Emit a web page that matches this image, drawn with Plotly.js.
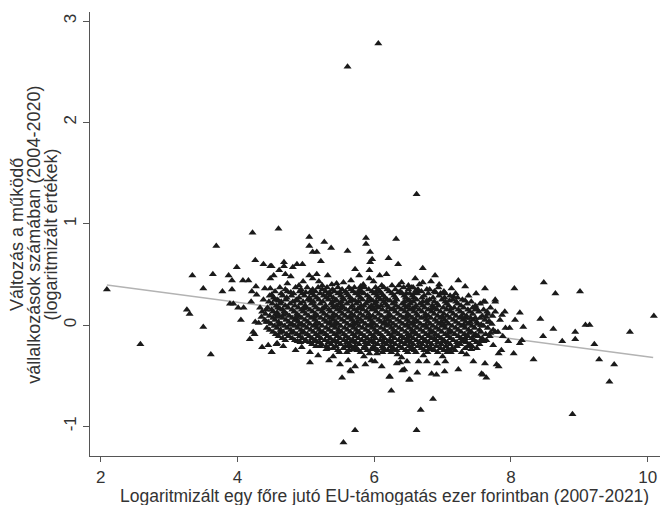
<!DOCTYPE html>
<html>
<head>
<meta charset="utf-8">
<script src="https://cdn.plot.ly/plotly-3.0.1.min.js"></script>
<style>html,body{margin:0;padding:0;background:#fff;}#chart{width:663px;height:505px;}</style>
</head>
<body>
<div id="chart"></div>
<script>
// Outlying / fringe points: [x, y]
const fringePoints = [
  [6.06,2.78],[5.61,2.55],[6.62,1.29],
  [5.55,-1.16],[5.72,-1.04],[6.62,-1.04],[6.68,-0.84],[6.86,-0.73],[6.25,-0.65],
  [8.48,0.42],[8.65,0.31],[9.01,0.33],[8.43,0.06],[8.62,-0.04],[8.47,-0.11],[8.75,-0.16],
  [8.94,-0.07],[8.94,-0.14],[9.09,0.00],[9.15,0.00],[9.22,-0.19],[9.74,-0.07],[10.09,0.09],
  [8.33,-0.34],[9.29,-0.34],[9.51,-0.39],[9.44,-0.56],[8.90,-0.88],
  [2.09,0.35],[2.58,-0.19],[3.34,0.49],[3.50,0.36],[3.26,0.15],[3.30,0.11],[3.50,-0.02],
  [3.61,-0.29],[3.69,0.78],[3.64,0.50],[3.87,0.49],[3.92,0.44],[3.78,0.33],[3.92,0.35],
  [3.99,0.57],[4.08,0.44],[4.16,0.44],[4.22,0.91],[4.26,0.64],[4.38,0.60],[4.48,0.58],
  [4.48,0.46],[4.60,0.95],[4.27,0.38],[4.40,0.36],[4.48,0.36],[4.21,0.33],[4.28,0.30],
  [4.50,0.30],[3.89,0.21],[3.94,0.21],[4.01,0.17],[4.09,0.17],[4.20,0.23],[4.33,0.17],
  [4.42,0.15],[4.55,0.25],[4.05,0.05],[4.26,0.03],[4.31,0.02],[4.42,0.03],[4.35,0.08],
  [4.58,0.12],[4.23,-0.07],[4.25,-0.09],[4.18,-0.14],[4.36,-0.22],[4.45,-0.20],[4.50,-0.27],
  [4.57,-0.19],
  [5.05,0.87],[5.27,0.82],[5.05,0.78],[5.37,0.76],[5.10,0.72],[5.16,0.72],[5.61,0.73],
  [5.88,0.86],[5.88,0.80],[6.32,0.85],[5.94,0.72],[5.97,0.65],[6.21,0.66],[5.94,0.62],
  [5.22,0.63],[4.68,0.62],[4.68,0.58],[4.87,0.60],[4.95,0.60],[4.81,0.57],[4.61,0.54],
  [4.70,0.50],[4.78,0.48],[6.35,0.60],[5.72,0.55],[5.93,0.54],[6.18,0.50],[6.08,0.49],
  [5.78,0.49],[5.32,0.49],[5.16,0.50],[5.05,0.49],[5.10,0.46],[4.96,0.43],[5.93,0.46],
  [5.99,0.43],[5.55,0.42],[5.38,0.40],[5.24,0.39],[6.11,0.39],[6.26,0.39],[5.84,0.40],
  [4.53,0.49],[4.50,0.58],
  [6.71,0.56],[6.89,0.49],[6.60,0.46],[6.83,0.43],[7.23,0.44],[6.71,0.42],[6.66,0.40],
  [6.50,0.39],[6.36,0.39],[7.13,0.36],[7.62,0.36],[8.05,0.36],[7.49,0.31],[7.04,0.31],
  [7.16,0.28],[6.61,0.34],[6.77,0.35],[6.47,0.31],[7.62,0.23],[7.77,0.25],
  [5.53,-0.52],[5.06,-0.37],[5.65,-0.45],[5.72,-0.41],[5.50,-0.39],[5.34,-0.35],[5.62,-0.35],
  [5.87,-0.39],[6.01,-0.36],[6.11,-0.41],[6.22,-0.51],[5.96,-0.35],[4.50,-0.27],[4.58,-0.18],
  [4.67,-0.21],[4.94,-0.22],[5.06,-0.27],[5.21,-0.21],[5.33,-0.23],[5.49,-0.27],[5.65,-0.21],
  [5.77,-0.25],[5.93,-0.28],[6.04,-0.28],[6.16,-0.25],[6.34,-0.29],[6.38,-0.37],[4.70,-0.15],
  [4.79,-0.08],[4.99,-0.16],[4.77,0.00],[4.58,0.10],[4.67,0.10],[4.87,0.05],
  [6.51,-0.54],[6.63,-0.47],[6.84,-0.48],[6.91,-0.49],[7.03,-0.46],[7.23,-0.44],[6.41,-0.45],
  [7.57,-0.48],[7.64,-0.52],[7.45,-0.36],[7.62,-0.38],[7.79,-0.39],[7.82,-0.41],[7.82,-0.28],
  [8.04,-0.28],[7.96,-0.16],[7.92,-0.03],[8.13,-0.18],[8.16,-0.15],[8.13,0.12],[8.06,0.05],
  [8.18,-0.02],[7.87,0.10],[7.77,0.13],[7.60,0.23],[7.77,0.23],[7.65,0.13],[7.67,0.03],
  [7.57,0.00],[7.77,-0.07],[7.60,-0.16],[7.74,-0.20],[7.86,-0.25],[7.43,-0.21],[7.31,-0.15],
  [7.47,-0.10],[7.48,0.07],[7.48,0.15],[7.34,0.07],[7.21,-0.21],[7.04,-0.36],[6.77,-0.36],
  [6.65,-0.36],[6.48,-0.36],[6.92,-0.38],[6.33,-0.38],
  [5.66,-0.46],[6.23,-0.51],[6.52,-0.54],[6.44,-0.44],[7.59,-0.49],
  [4.73,0.41],[5.19,0.43],[5.45,0.41],[5.66,0.44],[6.40,0.42],[6.95,0.40],[7.33,0.38],
  [4.90,0.39],[5.80,0.38],[6.55,0.37],
  [4.85,-0.25],[5.18,-0.30],[5.40,-0.31],[5.85,-0.31],[6.40,-0.32],[6.72,-0.30],[7.00,-0.31],
  [7.35,-0.29],[7.12,-0.27]
];

// Dense core of the cloud, estimated per level: y value and x positions
const coreLevels = [0.37,0.33,0.29,0.25,0.21,0.17,0.13,0.09,0.05,0.01,-0.03,-0.07,-0.11,-0.15,-0.19,-0.23,-0.27,0.19,0.03,-0.13];
const coreX = [
  [4.62,4.85,5.02,5.18,5.31,5.47,5.63,5.71,5.86,6.02,6.14,6.43,6.57,6.94],
  [4.55,4.73,4.91,5.07,5.14,5.29,5.42,5.58,5.69,5.81,5.97,6.08,6.22,6.38,6.69,6.88,7.02],
  [4.47,4.66,4.79,4.98,5.12,5.26,5.35,5.51,5.62,5.77,5.90,6.04,6.13,6.29,6.44,6.56,6.73,6.95,7.11,7.38],
  [4.38,4.58,4.71,4.86,5.03,5.19,5.33,5.44,5.56,5.68,5.83,5.95,6.09,6.19,6.33,6.49,6.62,6.81,6.99,7.15,7.29],
  [4.51,4.63,4.77,4.92,5.08,5.21,5.37,5.49,5.60,5.74,5.88,6.01,6.16,6.27,6.41,6.53,6.67,6.78,6.92,7.06,7.22,7.36,7.55],
  [4.44,4.59,4.74,4.89,5.01,5.15,5.28,5.41,5.55,5.66,5.79,5.93,6.06,6.21,6.36,6.47,6.60,6.74,6.87,7.01,7.17,7.31,7.44,7.70],
  [4.36,4.52,4.68,4.83,4.96,5.10,5.24,5.36,5.50,5.63,5.75,5.89,6.03,6.18,6.31,6.45,6.58,6.70,6.84,6.97,7.12,7.26,7.40,7.53,7.91],
  [4.47,4.61,4.76,4.90,5.04,5.17,5.31,5.45,5.58,5.71,5.84,5.98,6.11,6.24,6.39,6.52,6.64,6.79,6.93,7.07,7.20,7.35,7.58,7.73],
  [4.40,4.55,4.71,4.84,4.99,5.13,5.27,5.40,5.53,5.67,5.80,5.94,6.07,6.20,6.34,6.48,6.61,6.76,6.89,7.03,7.16,7.30,7.45,7.62,7.84],
  [4.49,4.64,4.80,4.94,5.06,5.20,5.34,5.47,5.61,5.73,5.87,6.00,6.14,6.28,6.42,6.55,6.68,6.82,6.95,7.09,7.24,7.38,7.51,7.72],
  [4.43,4.58,4.73,4.88,5.02,5.16,5.30,5.43,5.57,5.70,5.83,5.97,6.10,6.25,6.37,6.51,6.63,6.77,6.91,7.04,7.19,7.33,7.47,7.66,7.98],
  [4.52,4.67,4.82,4.97,5.11,5.25,5.38,5.52,5.65,5.78,5.92,6.05,6.19,6.32,6.46,6.59,6.72,6.86,6.99,7.13,7.27,7.42,7.56,7.81],
  [4.60,4.75,4.91,5.05,5.18,5.32,5.46,5.59,5.72,5.86,5.99,6.12,6.26,6.40,6.53,6.66,6.80,6.94,7.08,7.23,7.37,7.52,7.69,7.88],
  [4.84,5.00,5.14,5.28,5.42,5.56,5.69,5.82,5.96,6.09,6.23,6.36,6.50,6.62,6.75,6.89,7.02,7.16,7.30,7.46,7.64],
  [5.09,5.23,5.37,5.51,5.64,5.78,5.91,6.05,6.18,6.31,6.45,6.57,6.70,6.84,6.98,7.11,7.26,7.40,7.54],
  [5.40,5.55,5.71,5.85,6.00,6.13,6.28,6.41,6.56,6.69,6.83,6.97,7.14,7.33,7.50],
  [5.60,5.80,6.12,6.25,6.49,6.61,6.78,6.93,7.07,7.28],
  [5.45,5.85,6.10,6.50,6.85],
  [5.35,5.75,6.15,6.57,6.98,7.40],
  [5.50,6.02,6.48,6.88,7.33]
];

// Second layer of the dense core (in-between levels)
const core2Levels = [0.35,0.31,0.27,0.23,0.19,0.15,0.11,0.07,0.03,-0.01,-0.05,-0.09,-0.13,-0.17,-0.21,-0.25];
const core2X = [
  [4.70,4.93,5.10,5.24,5.39,5.53,5.66,5.79,5.92,6.06,6.19,6.31,6.50,6.64,6.81],
  [4.64,4.82,4.95,5.09,5.21,5.33,5.47,5.60,5.73,5.85,6.00,6.11,6.26,6.41,6.52,6.63,6.79,6.97,7.19],
  [4.53,4.72,4.90,5.05,5.16,5.30,5.40,5.54,5.65,5.80,5.93,6.06,6.16,6.31,6.46,6.58,6.70,6.86,7.03,7.22],
  [4.46,4.64,4.81,4.96,5.11,5.25,5.39,5.52,5.64,5.77,5.90,6.03,6.14,6.30,6.44,6.57,6.71,6.88,7.04,7.20,7.42],
  [4.57,4.70,4.84,4.99,5.13,5.29,5.40,5.53,5.68,5.81,5.96,6.04,6.19,6.32,6.45,6.61,6.71,6.94,7.09,7.27,7.48],
  [4.50,4.66,4.80,4.94,5.06,5.19,5.34,5.46,5.59,5.71,5.84,5.97,6.12,6.25,6.40,6.52,6.66,6.79,6.92,7.06,7.23,7.37,7.60],
  [4.41,4.56,4.72,4.87,5.00,5.14,5.27,5.41,5.54,5.67,5.80,5.92,6.07,6.22,6.35,6.49,6.62,6.75,6.88,7.02,7.16,7.30,7.44,7.66],
  [4.52,4.66,4.80,4.94,5.08,5.22,5.35,5.49,5.62,5.76,5.89,6.02,6.16,6.29,6.43,6.56,6.69,6.83,6.97,7.11,7.25,7.41,7.55],
  [4.45,4.60,4.75,4.89,5.03,5.16,5.30,5.44,5.57,5.70,5.83,5.97,6.10,6.24,6.38,6.51,6.64,6.79,6.92,7.06,7.20,7.34,7.50,7.69],
  [4.54,4.69,4.84,4.98,5.11,5.24,5.38,5.51,5.65,5.78,5.91,6.04,6.18,6.32,6.46,6.59,6.72,6.86,6.99,7.14,7.28,7.43,7.60],
  [4.47,4.63,4.78,4.93,5.07,5.20,5.34,5.48,5.61,5.74,5.88,6.01,6.15,6.28,6.41,6.55,6.68,6.82,6.95,7.10,7.23,7.38,7.54,7.74],
  [4.56,4.72,4.87,5.02,5.15,5.29,5.42,5.56,5.69,5.82,5.95,6.09,6.22,6.36,6.49,6.62,6.76,6.90,7.04,7.18,7.32,7.48,7.63],
  [4.66,4.80,4.95,5.09,5.22,5.36,5.63,5.77,5.90,6.15,6.30,6.43,6.57,6.71,6.84,6.98,7.12,7.27,7.43,7.58],
  [4.92,5.06,5.20,5.33,5.47,5.60,5.73,5.87,6.00,6.14,6.27,6.40,6.54,6.66,6.80,6.93,7.07,7.21,7.35,7.50],
  [5.15,5.30,5.44,5.58,5.72,5.86,5.99,6.12,6.24,6.37,6.51,6.64,6.77,6.91,7.05,7.20,7.37],
  [5.47,5.63,5.75,5.90,6.05,6.20,6.33,6.46,6.59,6.73,6.88,7.02,7.18]
];

// Third layer of the dense core
const core3Levels = [0.32,0.24,0.16,0.08,0.00,-0.08,-0.16,-0.24];
const core3X = [
  [4.78,5.00,5.35,5.50,5.77,6.02,6.35,6.60,6.90],
  [4.60,4.88,5.07,5.45,5.72,5.98,6.23,6.52,6.77,7.10,7.33],
  [4.62,4.97,5.24,5.50,5.76,6.00,6.28,6.56,6.84,7.12,7.50],
  [4.58,4.86,5.12,5.39,5.65,5.93,6.20,6.47,6.74,7.00,7.28,7.64],
  [4.60,4.90,5.14,5.42,5.69,5.95,6.21,6.48,6.75,7.02,7.31,7.56],
  [4.62,4.94,5.21,5.47,5.75,6.02,6.28,6.55,6.82,7.09,7.39,7.70],
  [4.88,5.12,5.39,5.66,5.93,6.20,6.47,6.73,7.00,7.28,7.55],
  [5.30,5.68,5.96,6.26,6.53,6.80,7.08,7.42]
];

// Fitted line end points
const fitX = [2.09, 10.08];
const fitY = [0.395, -0.32];

const yTickVals = [-1, 0, 1, 2, 3];
const yTickText = ['-1', '0', '1', '2', '3'];
const xTickVals = [2, 4, 6, 8, 10];

const xTitle = 'Logaritmizált egy főre jutó EU-támogatás ezer forintban (2007-2021)';
const yTitleLines = ['Változás a működő', 'vállalkozások számában (2004-2020)', '(logaritmizált értékek)'];

const px = [], py = [];
fringePoints.forEach(p => { px.push(p[0]); py.push(p[1]); });
[[coreLevels, coreX], [core2Levels, core2X], [core3Levels, core3X]].forEach(([lv, xs]) =>
  lv.forEach((yv, i) => xs[i].forEach(xv => { px.push(xv); py.push(yv); })));

const font = "Liberation Sans, Arial, sans-serif";
const data = [
  {x: fitX, y: fitY, type: 'scatter', mode: 'lines',
   line: {color: '#b3b3b3', width: 1.6}, hoverinfo: 'skip'},
  {x: px, y: py, type: 'scatter', mode: 'markers',
   marker: {symbol: 'triangle-up', size: 7, color: '#1a1a1a', line: {width: 0}}}
];
const yTitlePos = [-0.128, -0.0985, -0.069];
const annotations = [
  {text: xTitle, xref: 'paper', yref: 'paper', x: 0.5175, y: -0.091,
   xanchor: 'center', yanchor: 'middle', showarrow: false,
   font: {size: 17.5, color: '#333', family: font}}
].concat(yTitleLines.map((t, i) => ({
  text: t, xref: 'paper', yref: 'paper', x: yTitlePos[i], y: 0.498,
  xanchor: 'center', yanchor: 'middle', showarrow: false, textangle: -90,
  font: {size: 18, color: '#333', family: font}
})));
const layout = {
  width: 663, height: 505,
  margin: {l: 90, r: 3, t: 12, b: 49},
  paper_bgcolor: '#ffffff', plot_bgcolor: '#ffffff',
  showlegend: false,
  font: {family: font, color: '#333333', size: 17},
  annotations: annotations,
  xaxis: {
    range: [1.843, 10.18], tickvals: xTickVals, ticks: 'outside', ticklen: 5,
    tickcolor: '#555', showline: true, linecolor: '#555', linewidth: 1.2,
    showgrid: false, zeroline: false, tickfont: {size: 17, color: '#333'}
  },
  yaxis: {
    range: [-1.293, 3.09], tickvals: yTickVals, ticktext: yTickText, ticks: 'outside', ticklen: 6,
    tickcolor: '#555', showline: true, linecolor: '#555', linewidth: 1.2,
    showgrid: false, zeroline: false, tickangle: -90, tickfont: {size: 17, color: '#333'}
  }
};
Plotly.newPlot('chart', data, layout, {displayModeBar: false, staticPlot: true});
</script>
</body>
</html>
